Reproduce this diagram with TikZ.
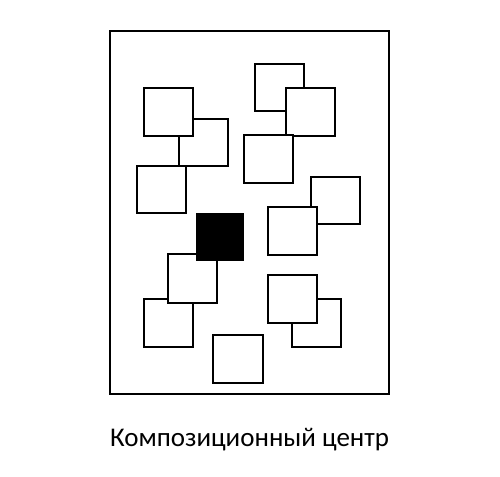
\documentclass[tikz,border=0pt]{standalone}
\usepackage{fontspec}
\setmainfont{Carlito}
\begin{document}
\begin{tikzpicture}[x=1pt,y=-1pt,
  sq/.style={draw,fill=white,line width=1.4pt}]
\useasboundingbox (0,0) rectangle (500,476);
\draw[line width=2pt] (110,31) rectangle (389,394);
% upper left group
\draw[sq] (179,119) rectangle (228,166);
\draw[sq] (144,88) rectangle (193,136);
\draw[sq] (137,166) rectangle (186,213);
% upper right group
\draw[sq] (255,64) rectangle (304,111);
\draw[sq] (286,88) rectangle (335,136);
\draw[sq] (244,135) rectangle (293,183);
% right middle
\draw[sq] (311,177) rectangle (360,224);
\draw[sq] (268,207) rectangle (317,255);
% centre
\draw[sq] (144,299) rectangle (193,347);
\draw[sq] (168,254) rectangle (217,303);
\fill (196,213) rectangle (244,261);
% lower right
\draw[sq] (292,299) rectangle (341,347);
\draw[sq] (268,275) rectangle (317,323);
\draw[sq] (213,335) rectangle (263,383);
\node[anchor=base,font=\fontsize{27}{32}\selectfont] (label) at (249.5,446.7) {Композиционный центр};
\end{tikzpicture}
\end{document}
